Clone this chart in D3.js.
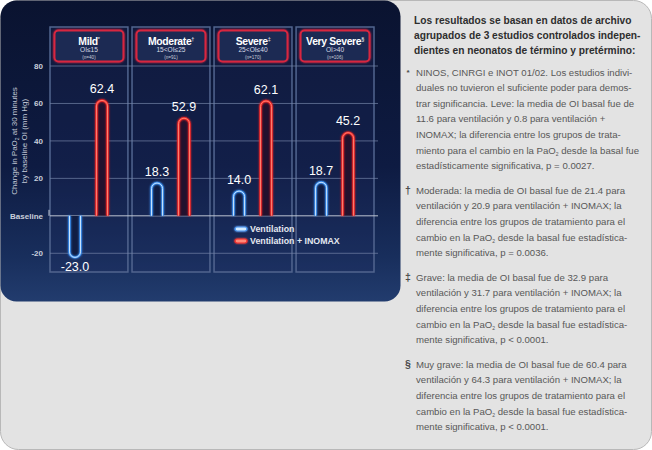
<!DOCTYPE html>
<html lang="es">
<head>
<meta charset="UTF-8">
<title>Cambio en PaO2 por OI basal</title>
<style>
    body { margin: 0; background: #ffffff; }
    svg { display: block; }
</style>
</head>
<body>
<div id="chart"></div>
<script src="https://cdn.jsdelivr.net/npm/d3@7"></script>
<script>
// categories and values
var categories = ["Mild", "Moderate", "Severe", "Very Severe"];
var marks = ["*", "\u2020", "\u2021", "\u00a7"];
var oiRanges = ["OI\u226415", "15<OI\u226425", "25<OI\u226440", "OI>40"];
var nLabels = ["(n=40)", "(n=91)", "(n=170)", "(n=106)"];
var ventilation = [-23.0, 18.3, 14.0, 18.7];
var ventInomax = [62.4, 52.9, 62.1, 45.2];
var yTicks = [80, 60, 40, 20, 0, -20];
var seriesNames = ["Ventilation", "Ventilation + INOMAX"];

var titleLines = [
    "Los resultados se basan en datos de archivo",
    "agrupados de 3 estudios controlados indepen-",
    "dientes en neonatos de término y pretérmino:"
];
// "~" marks where the subscript 2 of PaO2 goes
var notes = [
    { mark: "*", lines: [
        "NINOS, CINRGI e INOT 01/02. Los estudios indivi-",
        "duales no tuvieron el suficiente poder para demos-",
        "trar significancia. Leve: la media de OI basal fue de",
        "11.6 para ventilación y 0.8 para ventilación +",
        "INOMAX; la diferencia entre los grupos de trata-",
        "miento para el cambio en la PaO~ desde la basal fue",
        "estadísticamente significativa, p = 0.0027."] },
    { mark: "\u2020", lines: [
        "Moderada: la media de OI basal fue de 21.4 para",
        "ventilación y 20.9 para ventilación + INOMAX; la",
        "diferencia entre los grupos de tratamiento para el",
        "cambio en la PaO~ desde la basal fue estadística-",
        "mente significativa, p = 0.0036."] },
    { mark: "\u2021", lines: [
        "Grave: la media de OI basal fue de 32.9 para",
        "ventilación y 31.7 para ventilación + INOMAX; la",
        "diferencia entre los grupos de tratamiento para el",
        "cambio en la PaO~ desde la basal fue estadística-",
        "mente significativa, p < 0.0001."] },
    { mark: "\u00a7", lines: [
        "Muy grave: la media de OI basal fue de 60.4 para",
        "ventilación y 64.3 para ventilación + INOMAX; la",
        "diferencia entre los grupos de tratamiento para el",
        "cambio en la PaO~ desde la basal fue estadística-",
        "mente significativa, p < 0.0001."] }
];

var W = 652, H = 450;
var font = "'Liberation Sans', Arial, Helvetica, sans-serif";

var svg = d3.select("#chart").append("svg")
    .attr("width", W)
    .attr("height", H)
    .style("font-family", font);

var defs = svg.append("defs");

var bg = defs.append("linearGradient").attr("id", "panelBg")
    .attr("x1", 0).attr("y1", 0).attr("x2", 0).attr("y2", 1);
bg.append("stop").attr("offset", "0%").attr("stop-color", "#0a1330");
bg.append("stop").attr("offset", "55%").attr("stop-color", "#0e1b42");
bg.append("stop").attr("offset", "85%").attr("stop-color", "#182e5c");
bg.append("stop").attr("offset", "100%").attr("stop-color", "#223c6e");

function glowFilter(id, dev) {
    var f = defs.append("filter").attr("id", id)
        .attr("x", "-50%").attr("y", "-50%").attr("width", "200%").attr("height", "200%");
    f.append("feGaussianBlur").attr("in", "SourceGraphic").attr("stdDeviation", dev).attr("result", "b");
    var m = f.append("feMerge");
    m.append("feMergeNode").attr("in", "b");
    m.append("feMergeNode").attr("in", "SourceGraphic");
}
glowFilter("glow", 1.2);
glowFilter("glowSoft", 1);

// outer frame
svg.append("rect")
    .attr("x", 0.5).attr("y", 0.5)
    .attr("width", W - 1).attr("height", H - 1)
    .attr("rx", 18)
    .attr("fill", "#e3e3e3")
    .attr("stroke", "#b8b8b8");

// dark chart panel
svg.append("rect")
    .attr("x", 0.5).attr("y", 0.5)
    .attr("width", 400).attr("height", 301)
    .attr("rx", 16)
    .attr("fill", "url(#panelBg)");

// scales
var x = d3.scaleBand()
    .domain(categories)
    .range([50, 374])
    .paddingInner(0.05);

var xs = d3.scaleBand()
    .domain([0, 1])
    .range([18, 59])
    .paddingInner(0.48);

var y = d3.scaleLinear()
    .domain([-30, 80])
    .range([272, 66]);

var g = svg.append("g");

// column frames
g.selectAll(".col")
    .data(categories)
    .enter()
    .append("rect")
    .attr("x", function(d) { return x(d); })
    .attr("y", 27)
    .attr("width", x.bandwidth())
    .attr("height", y(-30) - 27)
    .attr("fill", "rgba(30,45,95,0.25)")
    .attr("stroke", "#52658f")
    .attr("stroke-width", 1.5);

// grid lines
g.selectAll(".grid")
    .data(yTicks)
    .enter()
    .append("line")
    .attr("x1", 50)
    .attr("x2", 378)
    .attr("y1", function(d) { return y(d); })
    .attr("y2", function(d) { return y(d); })
    .attr("stroke", function(d) { return d === 0 ? "#c5cbd8" : "#7483a6"; })
    .attr("stroke-opacity", function(d) { return d === 0 ? 0.95 : 0.7; })
    .attr("stroke-width", 1);

g.append("line")
    .attr("x1", 49).attr("x2", 49)
    .attr("y1", y(0) - 6).attr("y2", y(0))
    .attr("stroke", "#c5cbd8");

// y tick labels
g.selectAll(".ytick")
    .data(yTicks)
    .enter()
    .append("text")
    .attr("x", 43)
    .attr("y", function(d) { return y(d) + 3; })
    .attr("text-anchor", "end")
    .attr("fill", "#c9cfdc")
    .style("font-size", "8px")
    .style("font-weight", "bold")
    .text(function(d) { return d === 0 ? "Baseline" : d; });

// y axis title
var yt = g.append("text")
    .attr("transform", "translate(17,141) rotate(-90)")
    .attr("text-anchor", "middle")
    .attr("fill", "#c2c8d6")
    .style("font-size", "8px");
yt.append("tspan").attr("x", 0).attr("dy", 0).text("Change in PaO");
yt.append("tspan").style("font-size", "5px").attr("dy", 2).text("2");
yt.append("tspan").attr("dy", -2).text(" at 30 minutes");
yt.append("tspan").attr("x", 0).attr("dy", 9.5).text("by baseline OI (mm Hg)");

// header boxes
var head = g.selectAll(".head")
    .data(categories)
    .enter()
    .append("g")
    .attr("transform", function(d) { return "translate(" + x(d) + ",0)"; });

head.append("rect")
    .attr("x", 4.5)
    .attr("y", 30.5)
    .attr("width", x.bandwidth() - 9)
    .attr("height", 31)
    .attr("rx", 4)
    .attr("fill", "#1d2a52")
    .attr("stroke", "#d8283f")
    .attr("stroke-width", 2)
    .attr("filter", "url(#glowSoft)");

var hname = head.append("text")
    .attr("x", x.bandwidth() / 2)
    .attr("y", 44.5)
    .attr("text-anchor", "middle")
    .attr("fill", "#ffffff")
    .style("font-size", "10.4px")
    .style("font-weight", "bold")
    .style("letter-spacing", "-0.35px");
hname.append("tspan").text(function(d) { return d; });
hname.append("tspan")
    .attr("dy", -4)
    .style("font-size", "5.5px")
    .style("font-weight", "normal")
    .text(function(d, i) { return marks[i]; });

head.append("text")
    .attr("x", x.bandwidth() / 2)
    .attr("y", 52)
    .attr("text-anchor", "middle")
    .attr("fill", "#d8dce6")
    .style("font-size", "6.6px")
    .text(function(d, i) { return oiRanges[i]; });

head.append("text")
    .attr("x", x.bandwidth() / 2)
    .attr("y", 58.5)
    .attr("text-anchor", "middle")
    .attr("fill", "#c8ccd8")
    .style("font-size", "4.6px")
    .text(function(d, i) { return nLabels[i]; });

// bars as glowing tubes
var bars = [];
categories.forEach(function(c, i) {
    bars.push({ cat: c, s: 0, v: ventilation[i] });
    bars.push({ cat: c, s: 1, v: ventInomax[i] });
});

var tubeColors = [
    { glow: "#3a8ef0", core: "#d6ecff", fill: "#101d44" },
    { glow: "#f02828", core: "#ff8a78", fill: "#22112e" }
];

function tubePath(d) {
    var x0 = x(d.cat) + xs(d.s) + 1.5;
    var w = xs.bandwidth() - 3;
    var x1 = x0 + w;
    var r = w / 2;
    var yb = y(0);
    var ye = y(d.v) + (d.v >= 0 ? 1.5 : -1.5);
    if (d.v >= 0) {
        return "M" + x0 + "," + yb + "L" + x0 + "," + (ye + r) +
            "A" + r + "," + r + " 0 0 1 " + x1 + "," + (ye + r) +
            "L" + x1 + "," + yb;
    }
    return "M" + x0 + "," + yb + "L" + x0 + "," + (ye - r) +
        "A" + r + "," + r + " 0 0 0 " + x1 + "," + (ye - r) +
        "L" + x1 + "," + yb;
}

var bar = g.selectAll(".bar")
    .data(bars)
    .enter()
    .append("g");

bar.append("path")
    .attr("d", tubePath)
    .attr("fill", function(d) { return tubeColors[d.s].fill; })
    .attr("stroke", "none");

bar.append("path")
    .attr("d", tubePath)
    .attr("fill", "none")
    .attr("stroke", function(d) { return tubeColors[d.s].glow; })
    .attr("stroke-width", 2.4)
    .attr("filter", "url(#glow)");

bar.append("path")
    .attr("d", tubePath)
    .attr("fill", "none")
    .attr("stroke", function(d) { return tubeColors[d.s].core; })
    .attr("stroke-width", 0.9);

bar.append("text")
    .attr("x", function(d) { return x(d.cat) + xs(d.s) + xs.bandwidth() / 2; })
    .attr("y", function(d) { return d.v >= 0 ? y(d.v) - 6 : y(d.v) + 12; })
    .attr("text-anchor", "middle")
    .attr("fill", "#ffffff")
    .style("font-size", "12.5px")
    .text(function(d) { return d.v.toFixed(1); });

// legend
var leg = g.selectAll(".leg")
    .data(seriesNames)
    .enter()
    .append("g")
    .attr("transform", function(d, i) { return "translate(235," + (229 + i * 12) + ")"; });

leg.append("rect")
    .attr("x", 0).attr("y", -2)
    .attr("width", 12).attr("height", 4)
    .attr("rx", 2)
    .attr("fill", function(d, i) { return tubeColors[i].core; })
    .attr("stroke", function(d, i) { return tubeColors[i].glow; })
    .attr("stroke-width", 1.2)
    .attr("filter", "url(#glowSoft)");

leg.append("text")
    .attr("x", 15)
    .attr("y", 3.3)
    .attr("fill", "#e4e8f0")
    .style("font-size", "8.8px")
    .style("font-weight", "bold")
    .text(function(d) { return d; });

// right-hand notes
var txt = svg.append("g");

txt.selectAll(".title")
    .data(titleLines)
    .enter()
    .append("text")
    .attr("x", 414)
    .attr("y", function(d, i) { return 23.5 + i * 15; })
    .attr("fill", "#2e2e2e")
    .style("font-size", "10.2px")
    .style("font-weight", "bold")
    .text(function(d) { return d; });

var pitch = 15.6;
var lineY = 75.5;
notes.forEach(function(n) {
    txt.append("text")
        .attr("x", 408)
        .attr("y", lineY + (n.mark === "*" ? -1 : 0.5))
        .attr("text-anchor", "middle")
        .attr("fill", "#4a4a4a")
        .style("font-size", n.mark === "*" ? "8px" : "10.5px")
        .style("font-weight", "bold")
        .text(n.mark);
    n.lines.forEach(function(line) {
        var t = txt.append("text")
            .attr("x", 416)
            .attr("y", lineY)
            .attr("fill", "#585858")
            .style("font-size", "9.6px");
        var parts = line.split("~");
        t.append("tspan").text(parts[0]);
        if (parts.length > 1) {
            t.append("tspan").attr("dy", 2).style("font-size", "5px").text("2");
            t.append("tspan").attr("dy", -2).text(parts[1]);
        }
        lineY += pitch;
    });
    lineY += 9;
});
</script>
</body>
</html>
